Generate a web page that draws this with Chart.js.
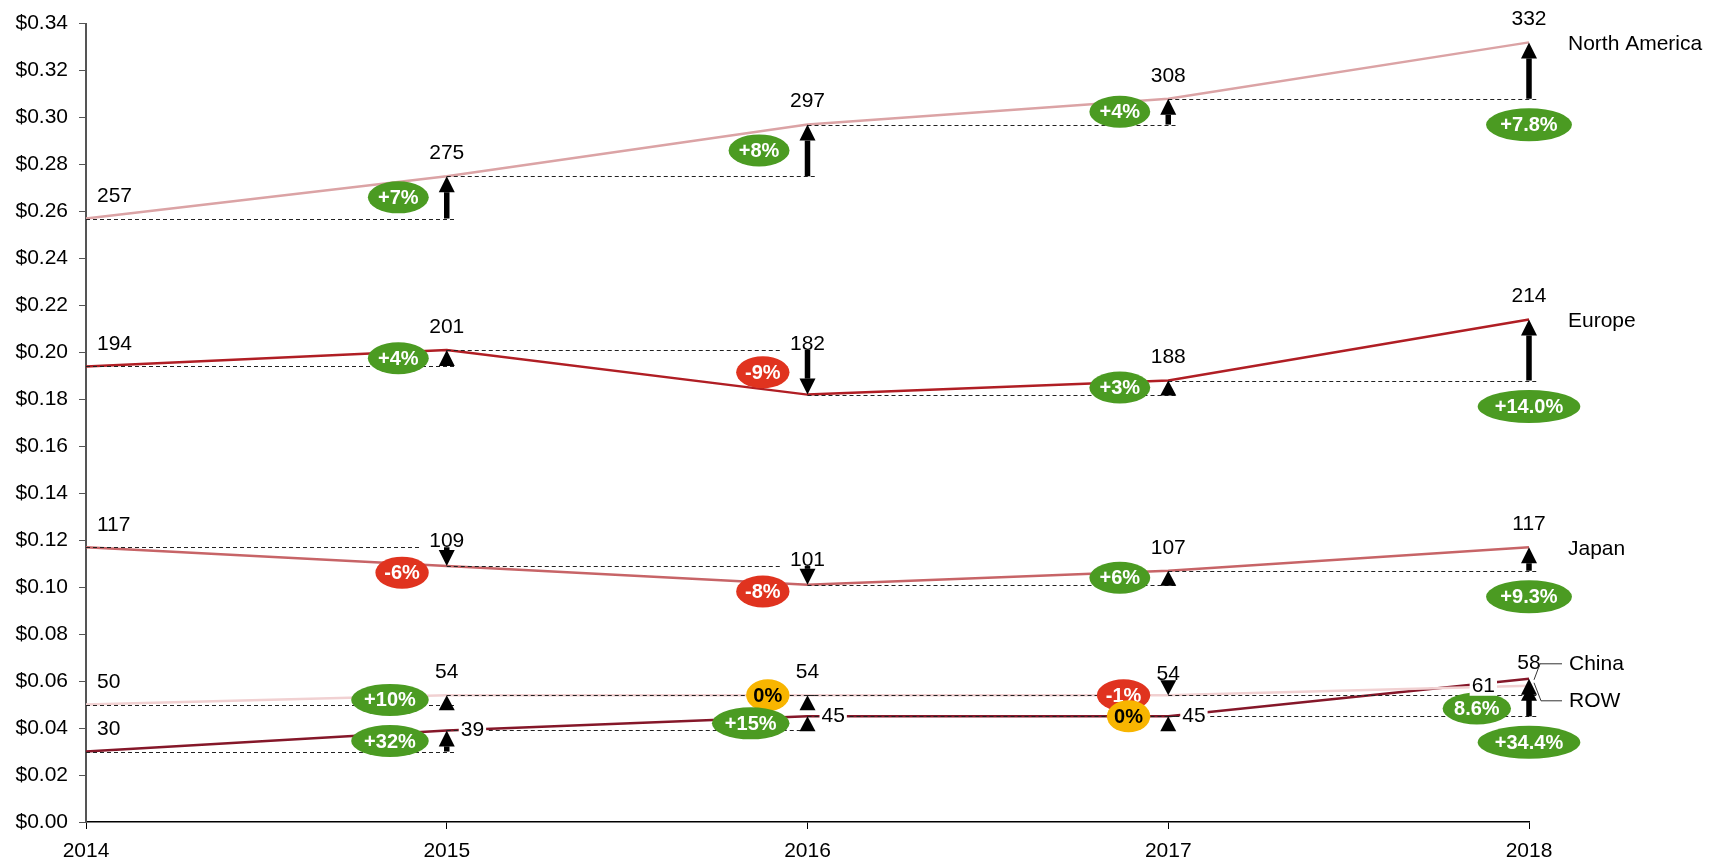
<!DOCTYPE html>
<html>
<head>
<meta charset="utf-8">
<title>Price per unit by region</title>
<script src="https://cdn.jsdelivr.net/npm/chart.js@4.4.1/dist/chart.umd.min.js"></script>
<style>
    html, body { margin: 0; padding: 0; background: #fff; }
    #wrap { width: 1727px; height: 862px; }
</style>
</head>
<body>
<div id="wrap"><canvas id="priceChart" width="1727" height="862"></canvas></div>
<script>
// data
const years = ['2014', '2015', '2016', '2017', '2018'];
const yTickValues = [0, 0.02, 0.04, 0.06, 0.08, 0.10, 0.12, 0.14, 0.16, 0.18, 0.20, 0.22, 0.24, 0.26, 0.28, 0.30, 0.32, 0.34];

const regionNames = ['North America', 'Europe', 'Japan', 'China', 'ROW'];

const northAmerica = [0.257, 0.275, 0.297, 0.308, 0.332];
const europe = [0.194, 0.201, 0.182, 0.188, 0.214];
const japan = [0.117, 0.109, 0.101, 0.107, 0.117];
const china = [0.050, 0.054, 0.054, 0.054, 0.058];
const rowRegion = [0.030, 0.039, 0.045, 0.045, 0.061];

// year-on-year change shown in the badges (2015..2018)
const northAmericaChange = ['+7%', '+8%', '+4%', '+7.8%'];
const europeChange = ['+4%', '-9%', '+3%', '+14.0%'];
const japanChange = ['-6%', '-8%', '+6%', '+9.3%'];
const chinaChange = ['+10%', '0%', '-1%', '8.6%'];
const rowChange = ['+32%', '+15%', '0%', '+34.4%'];

const seriesValues = [northAmerica, europe, japan, china, rowRegion];
const seriesChanges = [northAmericaChange, europeChange, japanChange, chinaChange, rowChange];
const lineColors = ['#dba3a5', '#b01e24', '#c76467', '#f1d1d2', '#851729'];

// layout tweaks
const FONT = '"Liberation Sans", Arial, Helvetica, sans-serif';
const TEXT_SIZE = 21;
const labelSide = { ROW: [null, 'right', 'right', 'right', 'left'] };
const badgeShift = { Japan: [16, 16, 0, 0], China: [0, 0, 0, 18] };
const lastBadgeLeft = { China: true };

function isDown(a, b, change) {
    if (b < a) return true;
    if (b > a) return false;
    return change.trim().startsWith('-');
}

function drawDashed(ctx, x0, x1, y) {
    ctx.save();
    ctx.strokeStyle = '#222';
    ctx.lineWidth = 1.2;
    ctx.setLineDash([4, 3]);
    ctx.beginPath();
    ctx.moveTo(x0, Math.round(y) + 0.5);
    ctx.lineTo(x1, Math.round(y) + 0.5);
    ctx.stroke();
    ctx.restore();
}

function drawArrow(ctx, x, yFrom, yTo, down) {
    const head = 16, halfHead = 8, shaft = 5.5, minLen = 15;
    const dir = down ? 1 : -1;
    let tail = yFrom;
    if (Math.abs(yTo - yFrom) < minLen || (yTo - yFrom) * dir < 0) tail = yTo - dir * minLen;
    const base = yTo - dir * Math.min(head, Math.abs(yTo - tail));
    ctx.fillStyle = '#000';
    if (Math.abs(base - tail) > 0.5) {
        ctx.fillRect(x - shaft / 2, Math.min(base, tail), shaft, Math.abs(base - tail));
    }
    ctx.beginPath();
    ctx.moveTo(x, yTo);
    ctx.lineTo(x - halfHead, base);
    ctx.lineTo(x + halfHead, base);
    ctx.closePath();
    ctx.fill();
}

function badgeWidth(ctx, text) {
    ctx.font = 'bold 20px ' + FONT;
    return ctx.measureText(text).width * 1.5;
}

function drawBadge(ctx, text, cx, cy, w, h) {
    let fill = '#4b9b22', ink = '#fff';
    if (text.trim().startsWith('-')) fill = '#e0331f';
    else if (parseFloat(text) === 0) { fill = '#f8b500'; ink = '#000'; }
    ctx.fillStyle = fill;
    ctx.beginPath();
    ctx.ellipse(cx, cy, w / 2, h / 2, 0, 0, Math.PI * 2);
    ctx.fill();
    ctx.font = 'bold 20px ' + FONT;
    ctx.fillStyle = ink;
    ctx.textAlign = 'center';
    ctx.textBaseline = 'middle';
    ctx.fillText(text, cx, cy + 1);
}

function drawText(ctx, text, x, y, align, knockout) {
    ctx.font = TEXT_SIZE + 'px ' + FONT;
    ctx.textAlign = align;
    ctx.textBaseline = 'middle';
    if (knockout) {
        const w = ctx.measureText(text).width;
        const left = align === 'left' ? x : align === 'right' ? x - w : x - w / 2;
        ctx.fillStyle = '#fff';
        ctx.fillRect(left - 2, y - 10, w + 4, 20);
    }
    ctx.fillStyle = '#000';
    ctx.fillText(text, x, y);
}

// dashed guides, arrows, badges and labels on top of the lines
const changeMarks = {
    id: 'changeMarks',
    afterDatasetsDraw(chart) {
        const { ctx, scales: { x: xs, y: ys } } = chart;
        const px = i => xs.getPixelForValue(i);
        const py = v => ys.getPixelForValue(v);
        ctx.save();

        // guides and arrows
        seriesValues.forEach((vals, s) => {
            const changes = seriesChanges[s];
            for (let i = 1; i < vals.length; i++) {
                const down = isDown(vals[i - 1], vals[i], changes[i - 1]);
                const x1 = down ? px(i) - 25 : px(i) + 8;
                drawDashed(ctx, px(i - 1), x1, py(vals[i - 1]));
            }
        });
        seriesValues.forEach((vals, s) => {
            const changes = seriesChanges[s];
            for (let i = 1; i < vals.length; i++) {
                drawArrow(ctx, px(i), py(vals[i - 1]), py(vals[i]), isDown(vals[i - 1], vals[i], changes[i - 1]));
            }
        });

        // change badges
        seriesValues.forEach((vals, s) => {
            const name = regionNames[s];
            const changes = seriesChanges[s];
            const shift = badgeShift[name] || [0, 0, 0, 0];
            for (let i = 1; i < vals.length; i++) {
                const text = changes[i - 1];
                const w = badgeWidth(ctx, text);
                const prev = py(vals[i - 1]), cur = py(vals[i]);
                const last = i === vals.length - 1;
                if (last && !lastBadgeLeft[name]) {
                    drawBadge(ctx, text, px(i), prev + 26 + shift[i - 1], w, 33);
                } else {
                    drawBadge(ctx, text, px(i) - 18 - w / 2, (prev + cur) / 2 + shift[i - 1], w, 32);
                }
            }
        });

        // value labels
        seriesValues.forEach((vals, s) => {
            const name = regionNames[s];
            const sides = labelSide[name] || [];
            const changes = seriesChanges[s];
            vals.forEach((v, i) => {
                const text = String(Math.round(v * 1000));
                if (i === 0) {
                    drawText(ctx, text, px(0) + 11, py(v) - 22, 'left');
                    return;
                }
                const side = sides[i];
                if (side === 'right') {
                    drawText(ctx, text, px(i) + 14, py(v), 'left', true);
                } else if (side === 'left') {
                    drawText(ctx, text, px(i) - 34, py(v) + 7, 'right', true);
                } else if (isDown(vals[i - 1], v, changes[i - 1])) {
                    const top = Math.min(py(vals[i - 1]), py(v) - 15);
                    drawText(ctx, text, px(i), top - 6, 'center');
                } else {
                    drawText(ctx, text, px(i), py(v) - 23, 'center');
                }
            });
        });

        // region names at the right end
        const xe = px(years.length - 1);
        [0, 1, 2].forEach(s => {
            const vals = seriesValues[s];
            drawText(ctx, regionNames[s], xe + 39, py(vals[vals.length - 1]) + 2, 'left');
        });
        const chinaY = py(china[china.length - 1]);
        const rowY = py(rowRegion[rowRegion.length - 1]);
        const chinaNameY = chinaY - 22;
        const rowNameY = chinaNameY + 37;
        ctx.strokeStyle = '#333';
        ctx.lineWidth = 1;
        ctx.beginPath();
        ctx.moveTo(xe + 5, chinaY - 6);
        ctx.lineTo(xe + 11, chinaNameY);
        ctx.lineTo(xe + 33, chinaNameY);
        ctx.moveTo(xe + 5, rowY + 4);
        ctx.lineTo(xe + 12, rowNameY);
        ctx.lineTo(xe + 33, rowNameY);
        ctx.stroke();
        drawText(ctx, regionNames[3], xe + 40, chinaNameY, 'left');
        drawText(ctx, regionNames[4], xe + 40, rowNameY, 'left');

        ctx.restore();
    }
};

const ctx = document.getElementById('priceChart').getContext('2d');
const priceChart = new Chart(ctx, {
    type: 'line',
    data: {
        labels: years,
        datasets: seriesValues.map((vals, s) => ({
            label: regionNames[s],
            data: vals,
            borderColor: lineColors[s],
            borderWidth: 2.5,
            pointRadius: 0,
            tension: 0,
            fill: false
        }))
    },
    options: {
        responsive: false,
        animation: false,
        layout: { padding: { top: 22, right: 198, left: 0, bottom: 0 } },
        plugins: {
            legend: { display: false },
            tooltip: { enabled: false }
        },
        scales: {
            x: {
                type: 'category',
                offset: false,
                afterFit: scale => { scale.height = 40; },
                border: { color: '#000', width: 1.5 },
                grid: { drawOnChartArea: false, drawTicks: true, tickLength: 7, color: '#000' },
                ticks: { color: '#000', padding: 10, maxRotation: 0, font: { family: FONT, size: TEXT_SIZE } }
            },
            y: {
                min: 0,
                max: 0.34,
                afterFit: scale => { scale.width = 86; },
                afterBuildTicks: scale => { scale.ticks = yTickValues.map(v => ({ value: v })); },
                border: { color: '#555', width: 2 },
                grid: { drawOnChartArea: false, drawTicks: true, tickLength: 7, color: '#555' },
                ticks: {
                    color: '#000',
                    padding: 11,
                    font: { family: FONT, size: TEXT_SIZE },
                    callback: v => '$' + Number(v).toFixed(2)
                }
            }
        }
    },
    plugins: [changeMarks]
});
</script>
</body>
</html>
